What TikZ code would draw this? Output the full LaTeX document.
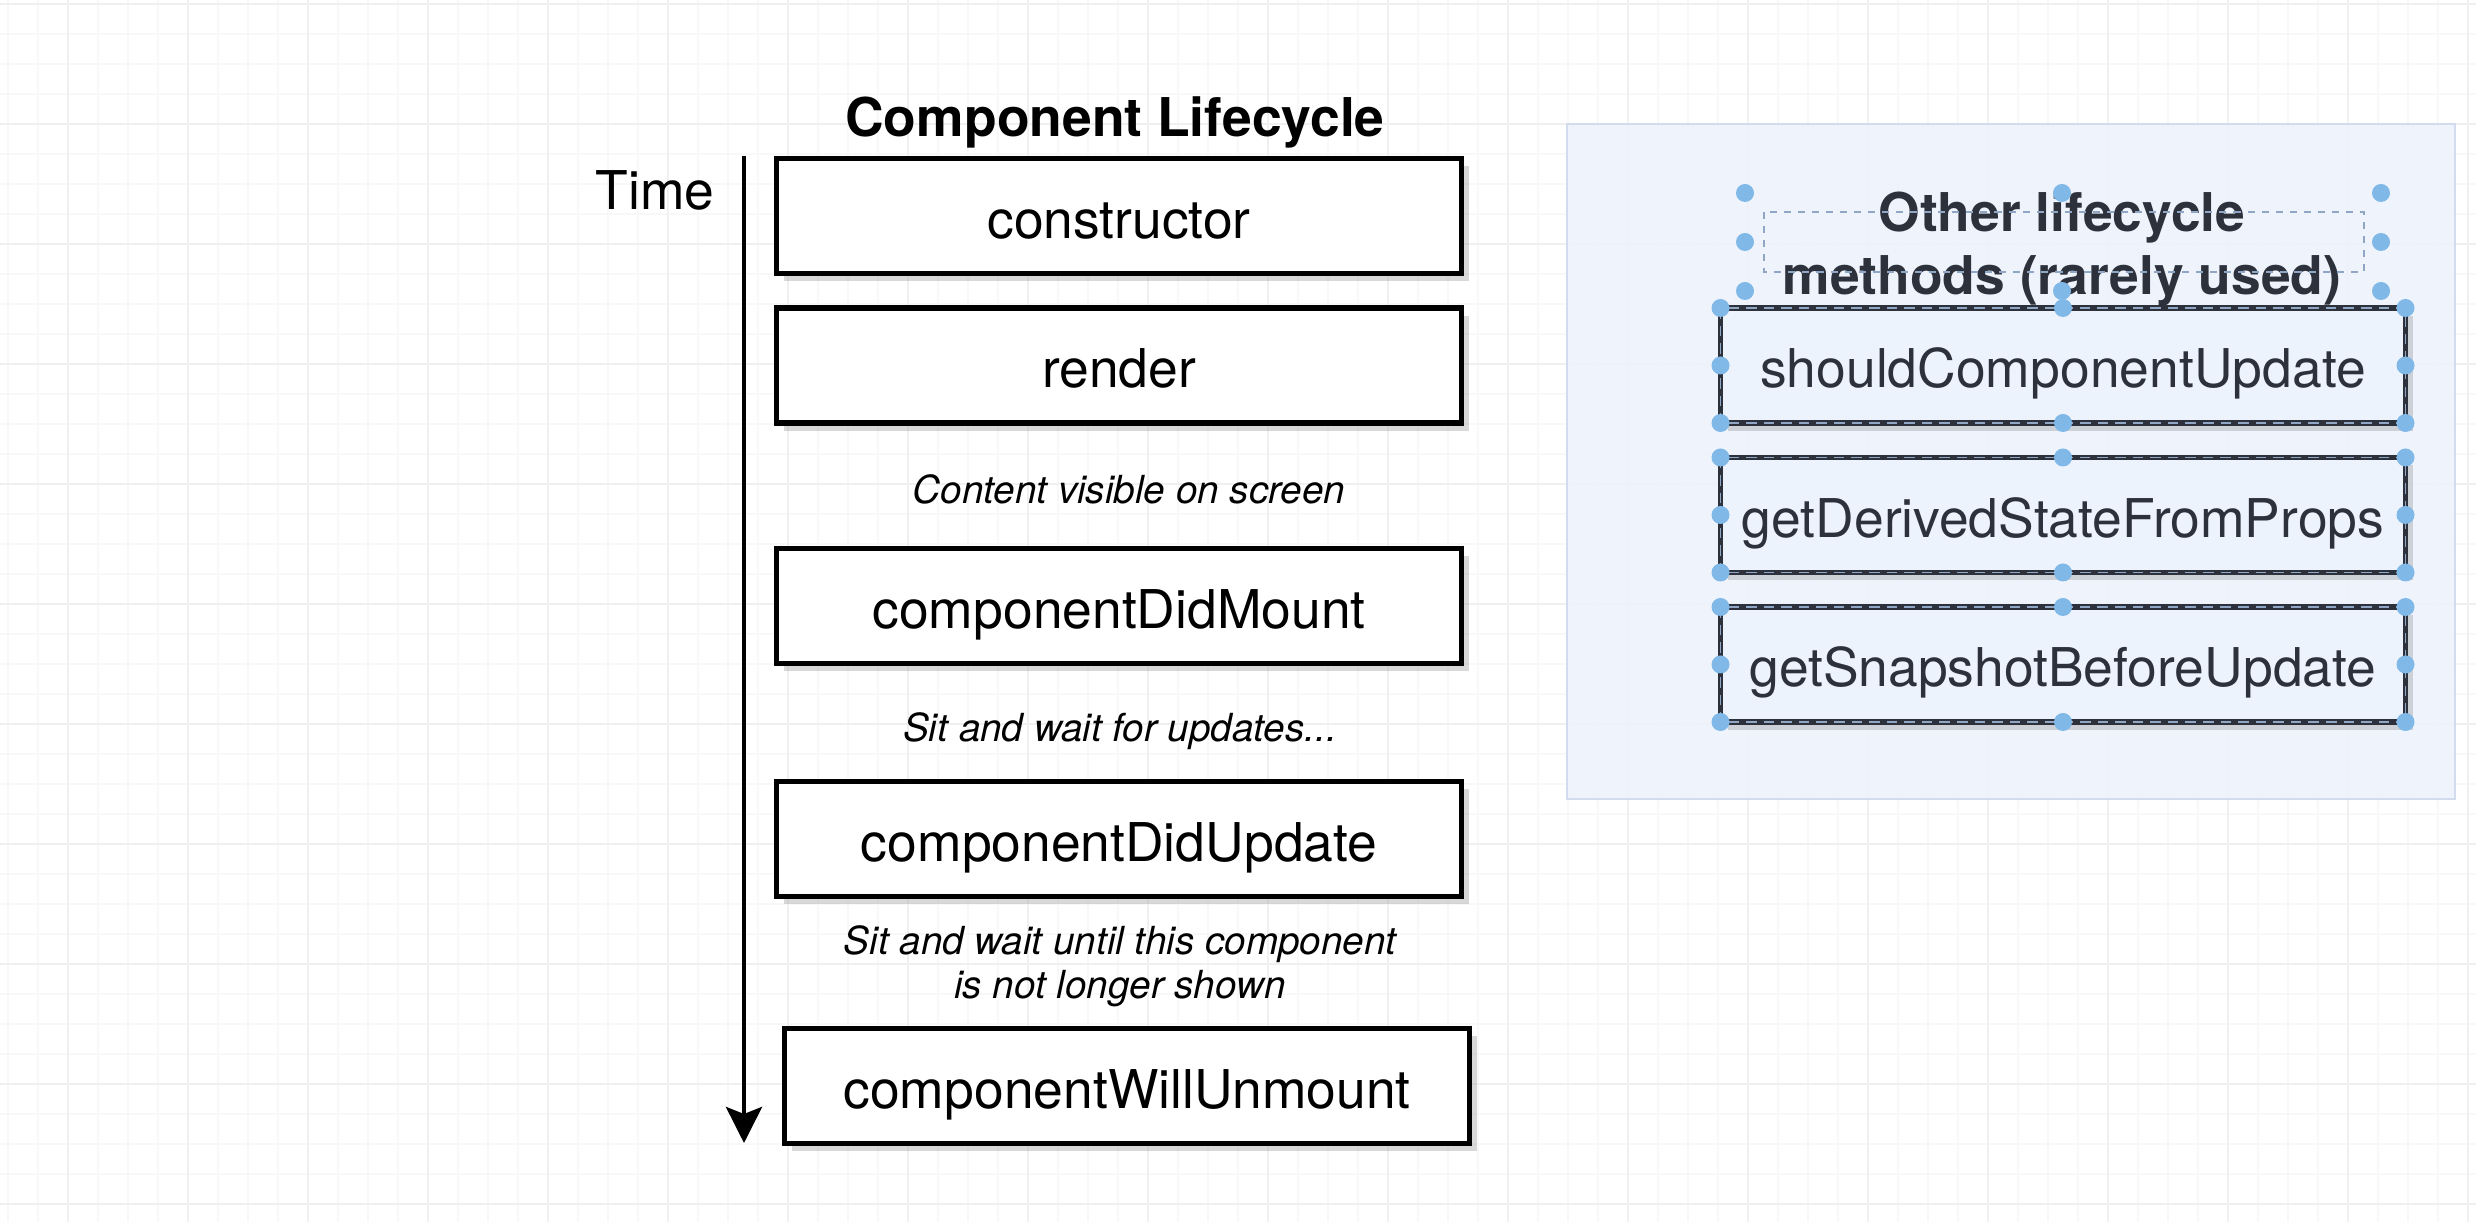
\documentclass[tikz,border=0pt]{standalone}
\usepackage{fontspec}
\setmainfont{TeX Gyre Heros}
\usetikzlibrary{arrows.meta,shadows}
\definecolor{gridmajor}{HTML}{F0F0F0}
\definecolor{gridminor}{HTML}{F8F8F8}
\definecolor{panelfill}{HTML}{EDF3FC}
\definecolor{paneledge}{HTML}{D3DBEE}
\definecolor{handleblue}{HTML}{80B8E8}
\definecolor{raretext}{HTML}{2C313C}
\definecolor{selectdash}{HTML}{8FA6C4}
\begin{document}
\begin{tikzpicture}[x=1cm, y=-1cm,
        phase/.style = {draw, line width=1.5pt, fill=white, outer sep=0pt, inner sep=0pt,
            minimum width=6.85cm, minimum height=1.15cm, text height=12.8pt, text depth=0pt,
            font=\fontsize{15.2}{18}\selectfont,
            drop shadow={shadow xshift=0.07cm, shadow yshift=-0.08cm, opacity=0.3}},
        rare/.style = {phase, line width=1.6pt, draw=raretext, fill=panelfill, text=raretext},
        note/.style = {font=\fontsize{11}{12.5}\selectfont\itshape, align=center},
        handle/.style = {fill=handleblue}]
        \useasboundingbox (0,0) rectangle (24.76,12.22);
        \fill[white] (0,0) rectangle (24.76,12.22);
        % background grid
        \foreach \gx in {0.08,0.38,...,24.76} \draw[gridminor, line width=0.4pt] (\gx,0) -- (\gx,12.22);
        \foreach \gy in {0.04,0.34,...,12.22} \draw[gridminor, line width=0.4pt] (0,\gy) -- (24.76,\gy);
        \foreach \gx in {0.68,1.88,...,24.76} \draw[gridmajor, line width=0.6pt] (\gx,0) -- (\gx,12.22);
        \foreach \gy in {0.04,1.24,...,12.22} \draw[gridmajor, line width=0.6pt] (0,\gy) -- (24.76,\gy);
        % main lifecycle
        \node[font=\fontsize{15.2}{18}\selectfont\bfseries] (title) at (11.15,1.22) {Component Lifecycle};
        \node[anchor=east, font=\fontsize{15.2}{18}\selectfont] (time) at (7.27,1.90) {Time};
        \coordinate (tstart) at (7.44,1.56);
        \coordinate (tend) at (7.44,11.43);
        \draw[line width=1.2pt, -{Stealth[length=0.36cm, width=0.36cm, inset=0.07cm]}] (tstart) -- (tend);
        \node[phase] (ctor) at (11.19,2.16) {constructor};
        \node[phase] (render) at (11.19,3.655) {render};
        \node[note] (visible) at (11.29,4.89) {Content visible on screen};
        \node[phase] (mount) at (11.19,6.06) {componentDidMount};
        \node[note] (wait) at (11.20,7.31) {Sit and wait for updates...};
        \node[phase] (update) at (11.19,8.39) {componentDidUpdate};
        \node[note] (waitend) at (11.20,9.66) {Sit and wait until this component\\is not longer shown};
        \node[phase] (unmount) at (11.27,10.86) {componentWillUnmount};
        % other lifecycle methods
        \draw[fill=panelfill, draw=paneledge, line width=0.8pt, fill opacity=0.85] (15.67,1.24) rectangle (24.55,7.99);
        \node[font=\fontsize{15.2}{18}\selectfont\bfseries, text=raretext, align=center] (other) at (20.62,2.49)
            {Other lifecycle\\methods (rarely used)};
        \draw[selectdash, line width=0.6pt, dash pattern=on 2pt off 2pt] (17.64,2.12) rectangle (23.64,2.72);
        \foreach \hx/\hy in {17.45/1.93, 20.62/1.93, 23.81/1.93, 17.45/2.42, 23.81/2.42, 17.45/2.91, 20.62/2.91, 23.81/2.91}
            \fill[handle] (\hx,\hy) circle (0.09);
        \node[rare] (should) at (20.63,3.655) {shouldComponentUpdate};
        \node[rare] (derived) at (20.63,5.15) {getDerivedStateFromProps};
        \node[rare] (snapshot) at (20.63,6.645) {getSnapshotBeforeUpdate};
        \foreach \b in {should, derived, snapshot} {
            \draw[selectdash, line width=0.5pt, dash pattern=on 3pt off 2pt] (\b.north west) rectangle (\b.south east);
            \foreach \a in {north west, north, north east, east, south east, south, south west, west}
                \fill[handle] (\b.\a) circle (0.09);
        }
    \end{tikzpicture}
\end{document}
